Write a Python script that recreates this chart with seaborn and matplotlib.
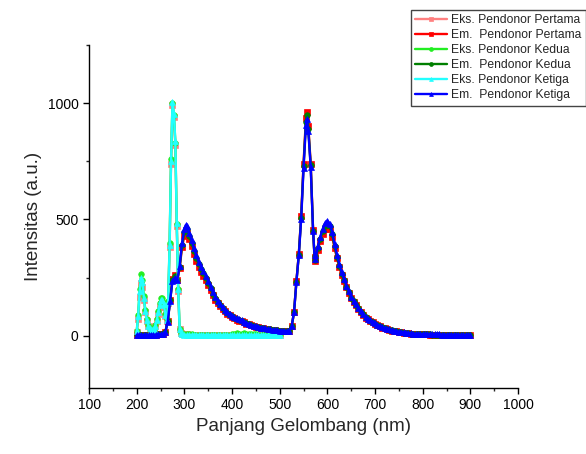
import matplotlib
matplotlib.use("Agg")
import matplotlib.pyplot as plt
from matplotlib.ticker import MultipleLocator
import seaborn as sns

# panjang gelombang (nm)
ex_x = list(range(200, 297, 3)) + [300] + list(range(305, 501, 5))
em_x = (list(range(200, 301, 5)) + [303] + list(range(305, 556, 5)) + [557]
        + list(range(560, 571, 5)) + [573] + list(range(575, 901, 5)))

# eksitasi
eks_pertama = [15, 70, 165, 225, 210, 155, 100, 65, 42, 30, 24, 23, 27, 40, 62, 92, 122,
               138, 140, 122, 85, 65, 140, 380, 740, 990, 940, 820, 470, 190, 28, 10, 6, 5,
               5, 4, 4, 4, 3, 3, 3, 3, 3, 3, 3, 3, 3, 3, 3, 3, 3, 3, 3, 3,
               3, 3, 3, 3, 3, 3, 3, 3, 3, 3, 3, 3, 3, 3, 3, 3, 3, 3, 3, 3]
eks_kedua = [20, 90, 200, 265, 240, 170, 110, 70, 45, 32, 26, 25, 30, 45, 70, 105, 140,
             160, 162, 140, 95, 70, 150, 400, 760, 1000, 950, 830, 480, 200, 30, 10, 6, 5,
             6, 5, 5, 4, 4, 4, 4, 4, 4, 4, 4, 4, 4, 4, 4, 4, 4, 4, 4, 5,
             8, 10, 9, 7, 12, 8, 6, 5, 5, 5, 4, 4, 4, 4, 4, 4, 4, 4, 4, 4]
eks_ketiga = [18, 85, 190, 248, 230, 162, 105, 67, 43, 31, 25, 24, 28, 43, 67, 100, 133,
              152, 155, 134, 90, 68, 145, 390, 750, 1005, 955, 835, 485, 200, 30, 10, 6, 4,
              3, 3, 3, 3, 3, 2, 2, 2, 2, 2, 2, 2, 2, 2, 2, 2, 2, 2, 2, 2,
              2, 2, 2, 2, 2, 2, 2, 2, 2, 2, 2, 2, 2, 2, 2, 2, 2, 2, 2, 2]

# emisi
em_pertama = ([3, 3, 3, 3, 3, 4, 4, 4, 4, 5, 5, 7, 16, 62, 155, 245, 262, 240, 290, 380, 430]
              + [445]
              + [440, 415, 385, 352, 322, 296, 274, 258, 240, 218, 195,
                 173, 155, 140, 126, 114, 104, 95, 87, 80,
                 74, 69, 65, 62, 57, 52, 48, 44, 41, 38,
                 36, 33, 31, 29, 27, 26, 24, 23, 22, 21,
                 20, 19, 18, 21, 40, 100, 235, 350, 515, 740, 935]
              + [962] + [900, 740, 455] + [340]
              + [320, 370, 405, 438, 460, 468, 458, 425, 378, 333,
                 295, 262, 236, 208, 183, 160, 144, 130, 115, 101,
                 89, 78, 70, 63, 57, 50, 45, 40, 35, 31,
                 28, 25, 22, 20, 18, 16, 14, 13, 12, 10,
                 9, 8, 7, 6, 6, 5, 5, 5, 4, 4,
                 4, 4, 4, 4, 3, 3, 3, 3, 3, 3,
                 3, 3, 3, 3, 3, 3])
em_kedua = ([3, 3, 3, 3, 3, 4, 4, 4, 4, 5, 5, 7, 15, 61, 152, 240, 256, 239, 295, 390, 445]
            + [462]
            + [457, 430, 398, 365, 334, 307, 285, 268, 249, 227, 203,
               180, 160, 145, 131, 118, 108, 98, 90, 83,
               77, 72, 68, 64, 59, 54, 49, 45, 42, 39,
               37, 34, 32, 30, 28, 27, 25, 24, 23, 22,
               21, 20, 19, 22, 40, 100, 232, 348, 508, 730, 920]
            + [948] + [890, 732, 452] + [342]
            + [325, 378, 415, 448, 472, 482, 470, 435, 386, 340,
               301, 267, 240, 211, 186, 163, 147, 133, 118, 103,
               91, 80, 71, 64, 58, 51, 46, 41, 36, 32,
               29, 26, 23, 20, 18, 16, 15, 13, 12, 10,
               9, 8, 7, 7, 6, 5, 5, 5, 5, 4,
               4, 4, 4, 4, 4, 3, 3, 3, 3, 3,
               3, 3, 3, 3, 3, 3])
em_ketiga = ([3, 3, 3, 3, 3, 4, 4, 4, 4, 5, 5, 7, 15, 60, 150, 235, 250, 238, 300, 400, 458]
             + [476]
             + [470, 442, 410, 376, 345, 318, 295, 278, 258, 235, 210,
                186, 166, 150, 135, 122, 111, 100, 92, 85,
                79, 74, 70, 66, 60, 55, 50, 46, 43, 40,
                38, 35, 33, 31, 29, 27, 25, 24, 23, 22,
                21, 20, 19, 22, 40, 100, 230, 345, 500, 720, 905]
             + [932] + [880, 725, 450] + [345]
             + [330, 385, 425, 458, 483, 495, 482, 445, 395, 348,
                308, 272, 245, 215, 190, 166, 150, 136, 120, 106,
                93, 82, 73, 66, 60, 53, 47, 42, 37, 33,
                30, 27, 24, 21, 19, 17, 15, 14, 13, 11,
                10, 9, 8, 7, 7, 6, 6, 6, 5, 5,
                5, 5, 5, 4, 4, 4, 4, 4, 4, 3,
                3, 3, 3, 3, 3, 3])

series = [
    ("Eks. Pendonor Pertama", ex_x, eks_pertama, "#ff8080", "s"),
    ("Em.  Pendonor Pertama", em_x, em_pertama, "#ff0000", "s"),
    ("Eks. Pendonor Kedua", ex_x, eks_kedua, "#22ee22", "o"),
    ("Em.  Pendonor Kedua", em_x, em_kedua, "#007f00", "o"),
    ("Eks. Pendonor Ketiga", ex_x, eks_ketiga, "#22ffff", "^"),
    ("Em.  Pendonor Ketiga", em_x, em_ketiga, "#0000ff", "^"),
]

sns.set_style("ticks")
plt.rcParams['font.family'] = ['Liberation Sans', 'DejaVu Sans']

fig = plt.figure(figsize=(5.86, 4.54), dpi=100)
ax = fig.add_axes([0.152, 0.1454, 0.732, 0.7556])

for lab, xs, ys, col, mk in series:
    sns.lineplot(x=xs, y=ys, ax=ax, color=col, marker=mk, markersize=4,
                 markeredgewidth=0.5, markeredgecolor=col, linewidth=1.7,
                 label=lab, estimator=None)

ax.set_xlim(100, 1000)
ax.set_ylim(-225, 1250)
ax.xaxis.set_major_locator(MultipleLocator(100))
ax.xaxis.set_minor_locator(MultipleLocator(50))
ax.yaxis.set_major_locator(MultipleLocator(500))
ax.yaxis.set_minor_locator(MultipleLocator(250))
ax.tick_params(which='major', direction='out', length=4, width=1, labelsize=10, colors='black')
ax.tick_params(which='minor', direction='out', length=2.5, width=1)
for s in ['left', 'bottom']:
    ax.spines[s].set_linewidth(1)
    ax.spines[s].set_color('black')
sns.despine(ax=ax)

ax.set_xlabel("Panjang Gelombang (nm)", fontsize=13.5)
ax.set_ylabel("Intensitas (a.u.)", fontsize=13.5)

leg = ax.legend(loc='upper right', bbox_to_anchor=(1.0, 0.978), bbox_transform=fig.transFigure,
                fontsize=8.7, frameon=True, fancybox=False, edgecolor='#444444',
                framealpha=1, borderpad=0.35, labelspacing=0.25, handlelength=2.6,
                handletextpad=0.4, borderaxespad=0, markerscale=0.7)
leg.get_frame().set_linewidth(1)

fig.savefig("out.png", dpi=100)
